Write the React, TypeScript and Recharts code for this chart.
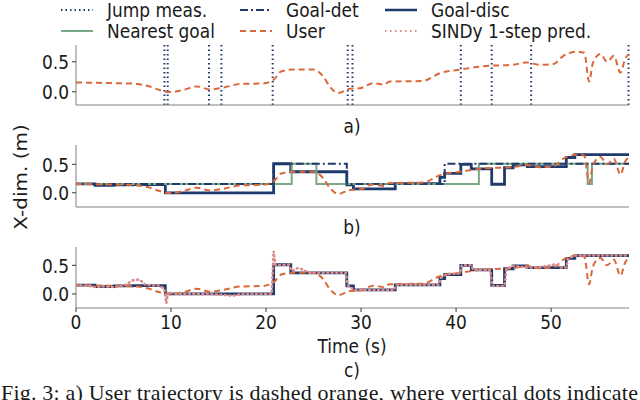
import React from 'react'
import { ComposedChart, Line, XAxis, YAxis, ReferenceLine } from 'recharts'

const NAVY = '#1f3a6c'
const GREEN = '#78a987'
const ORANGE = '#d9683a'
const PINK = '#d98a8a'
const FRAME = '#808080'
const FONT = '"DejaVu Sans", sans-serif'
const X_MAX = 58.2
const SQUEEZE = 0.85

// vertical dotted markers (panel a)
const jumpTimes = [9.3, 9.65, 14.0, 15.3, 20.7, 28.6, 29.1, 40.5, 43.75, 47.9, 58.15]

// user trajectory
const userT = [0, 2, 3.6, 5.3, 6.4, 7.5, 8.8, 9.9, 11.3, 12.7, 14.1, 15.5, 17.3, 19.7, 20.8, 21.6, 22.8, 25, 26, 26.7, 27.6, 28.8, 29.9, 31.3, 32.4, 33, 36.5, 38.3, 40.4, 43.2, 46, 47.4, 48.8, 50.2, 51.3, 52.7, 53.5, 54, 54.4, 55.2, 55.9, 56.6, 57.3, 57.8, 58.2]
const userX = [0.155, 0.15, 0.145, 0.14, 0.13, 0.1, 0.03, -0.005, 0.03, 0.09, 0.04, 0.07, 0.13, 0.14, 0.2, 0.34, 0.37, 0.37, 0.26, 0.09, -0.02, 0.05, 0.06, 0.145, 0.12, 0.17, 0.18, 0.31, 0.37, 0.43, 0.45, 0.49, 0.45, 0.46, 0.6, 0.67, 0.65, 0.17, 0.48, 0.63, 0.5, 0.6, 0.32, 0.55, 0.63]

// discrete goal (step)
const discT = [0, 2, 4, 6, 9.4, 20.8, 22.6, 28.5, 29.2, 33.6, 38.3, 38.8, 40.5, 41.6, 43.75, 45.1, 46, 47.5, 51.6, 52.5, 58.2]
const discX = [0.155, 0.13, 0.14, 0.145, 0.0, 0.51, 0.37, 0.14, 0.07, 0.16, 0.27, 0.34, 0.5, 0.42, 0.15, 0.44, 0.49, 0.46, 0.62, 0.67, 0.67]

// deterministic goal (step)
const detT = [0, 20.8, 28.5, 38.8, 58.2]
const detX = [0.155, 0.51, 0.155, 0.51, 0.51]

// nearest goal (step)
const nearT = [0, 22.7, 25.3, 42.4, 53.85, 54.3, 58.2]
const nearX = [0.155, 0.51, 0.155, 0.51, 0.155, 0.51, 0.51]

// SINDy 1-step prediction
const sindyT = [0, 1, 2, 3, 4, 5, 6, 6.7, 7.3, 8, 8.8, 9.3, 9.5, 9.7, 10.5, 12, 14, 15, 16.5, 17.5, 19, 20.6, 20.8, 21, 22.4, 22.7, 23.3, 23.8, 24.5, 28.4, 28.6, 29.3, 33.5, 33.7, 38.2, 38.4, 39, 40.4, 40.6, 41.6, 41.8, 43.6, 43.8, 45.1, 45.3, 46, 47.5, 49, 50.5, 51, 51.6, 51.8, 52.5, 58.2]
const sindyX = [0.15, 0.15, 0.12, 0.13, 0.12, 0.14, 0.24, 0.25, 0.16, 0.15, 0.15, 0.08, -0.16, 0.03, 0.0, 0.0, 0.0, -0.01, -0.03, 0.0, 0.0, 0.0, 0.75, 0.5, 0.51, 0.4, 0.45, 0.43, 0.37, 0.37, 0.15, 0.07, 0.07, 0.16, 0.16, 0.28, 0.35, 0.36, 0.5, 0.5, 0.42, 0.42, 0.14, 0.14, 0.44, 0.49, 0.46, 0.47, 0.52, 0.46, 0.46, 0.62, 0.67, 0.67]

const xTicks = [0, 10, 20, 30, 40, 50]
const yTicks = [0, 0.5]

const zip = (ts: number[], xs: number[]) => ts.map((t, i) => ({ t, v: xs[i] }))
const userData = zip(userT, userX)
const discData = zip(discT, discX)
const detData = zip(detT, detX)
const nearData = zip(nearT, nearX)
const sindyData = zip(sindyT, sindyX)

function XTick({ x, y, payload }: any) {
  return (
    <text transform={`translate(${x},${y}) scale(${SQUEEZE},1)`} textAnchor="middle" dy="0.78em" fontSize={20} fontFamily={FONT} fill="#1a1a1a">
      {payload.value}
    </text>
  )
}

function YTick({ x, y, payload }: any) {
  return (
    <text transform={`translate(${x},${y}) scale(${SQUEEZE},1)`} textAnchor="end" dy="0.36em" fontSize={20} fontFamily={FONT} fill="#1a1a1a">
      {payload.value.toFixed(1)}
    </text>
  )
}

function Panel({ top, height, domain, bottomLabels, children }: any) {
  const axisH = bottomLabels ? 28 : 6
  return (
    <div style={{ position: 'absolute', left: 0, top }}>
      <ComposedChart width={640} height={height + axisH} margin={{ top: 0, right: 11, bottom: 0, left: 16 }}>
        <XAxis
          type="number"
          dataKey="t"
          domain={[0, X_MAX]}
          allowDataOverflow
          ticks={xTicks}
          height={axisH}
          tick={bottomLabels ? <XTick /> : false}
          tickSize={4}
          tickMargin={1}
          tickLine={{ stroke: '#333' }}
          axisLine={{ stroke: FRAME }}
        />
        <XAxis xAxisId="top" orientation="top" type="number" domain={[0, X_MAX]} height={0} tick={false} tickLine={false} axisLine={{ stroke: FRAME }} />
        <YAxis
          type="number"
          domain={domain}
          allowDataOverflow
          ticks={yTicks}
          width={60}
          tick={<YTick />}
          tickSize={4}
          tickMargin={3}
          tickLine={{ stroke: '#333' }}
          axisLine={{ stroke: FRAME }}
        />
        <YAxis yAxisId="right" orientation="right" type="number" domain={domain} width={0} tick={false} tickLine={false} axisLine={{ stroke: FRAME }} />
        {children}
      </ComposedChart>
    </div>
  )
}

function LegendItem({ x, y, label, stroke, dash, width }: any) {
  return (
    <g>
      <line x1={x} y1={y} x2={x + 32} y2={y} stroke={stroke} strokeWidth={width} strokeDasharray={dash} />
      <text transform={`translate(${x + 46},${y + 7}) scale(${SQUEEZE},1)`} fontSize={20} fontFamily={FONT} fill="#1a1a1a">{label}</text>
    </g>
  )
}

const textBase: React.CSSProperties = {
  position: 'absolute', fontFamily: FONT, fontSize: 20, color: '#1a1a1a', whiteSpace: 'nowrap', lineHeight: '18px',
}

export default function App() {
  return (
    <div style={{ position: 'absolute', left: 0, top: 0, width: 640, height: 400, overflow: 'hidden', background: '#fff' }}>
      <svg width={640} height={44} style={{ position: 'absolute', left: 0, top: 0 }}>
        <LegendItem x={61} y={10} label="Jump meas." stroke={NAVY} dash="1.5 3" width={2} />
        <LegendItem x={240} y={10} label="Goal-det" stroke={NAVY} dash="8 3 2 3" width={2} />
        <LegendItem x={385} y={10} label="Goal-disc" stroke={NAVY} width={2.5} />
        <LegendItem x={61} y={31} label="Nearest goal" stroke={GREEN} width={2} />
        <LegendItem x={240} y={31} label="User" stroke={ORANGE} dash="6 4" width={2} />
        <LegendItem x={385} y={31} label="SINDy 1-step pred." stroke={PINK} dash="1.5 3.5" width={2} />
      </svg>

      <Panel top={45} height={60} domain={[-0.22, 0.78]}>
        {jumpTimes.map((t) => (
          <ReferenceLine key={t} x={t} stroke={NAVY} strokeWidth={2} strokeDasharray="1.5 3" />
        ))}
        <Line data={userData} dataKey="v" type="monotone" stroke={ORANGE} strokeWidth={2} strokeDasharray="6 4" dot={false} isAnimationActive={false} />
      </Panel>

      <Panel top={145} height={62} domain={[-0.25, 0.84]}>
        <Line data={discData} dataKey="v" type="stepAfter" stroke={NAVY} strokeWidth={2.8} dot={false} isAnimationActive={false} />
        <Line data={nearData} dataKey="v" type="stepAfter" stroke={GREEN} strokeWidth={2} dot={false} isAnimationActive={false} />
        <Line data={detData} dataKey="v" type="stepAfter" stroke={NAVY} strokeWidth={2} strokeDasharray="8 3 2 3" dot={false} isAnimationActive={false} />
        <Line data={userData} dataKey="v" type="monotone" stroke={ORANGE} strokeWidth={2} strokeDasharray="6 4" dot={false} isAnimationActive={false} />
      </Panel>

      <Panel top={247} height={61} domain={[-0.245, 0.82]} bottomLabels>
        <Line data={discData} dataKey="v" type="stepAfter" stroke={NAVY} strokeWidth={2.8} dot={false} isAnimationActive={false} />
        <Line data={userData} dataKey="v" type="monotone" stroke={ORANGE} strokeWidth={2} strokeDasharray="6 4" dot={false} isAnimationActive={false} />
        <Line data={sindyData} dataKey="v" type="linear" stroke={PINK} strokeWidth={2.5} strokeDasharray="1 3.5" strokeLinecap="round" dot={false} isAnimationActive={false} />
      </Panel>

      <div style={{ ...textBase, left: 352, top: 126, transform: `translate(-50%, -50%) scaleX(${SQUEEZE})` }}>a)</div>
      <div style={{ ...textBase, left: 352, top: 227, transform: `translate(-50%, -50%) scaleX(${SQUEEZE})` }}>b)</div>
      <div style={{ ...textBase, left: 352, top: 346, transform: `translate(-50%, -50%) scaleX(${SQUEEZE})` }}>Time (s)</div>
      <div style={{ ...textBase, left: 352, top: 370, transform: `translate(-50%, -50%) scaleX(${SQUEEZE})` }}>c)</div>
      <div style={{ ...textBase, left: 21, top: 177, transform: `translate(-50%, -50%) rotate(-90deg) scaleY(${SQUEEZE})` }}>X-dim. (m)</div>
      <div style={{ ...textBase, left: 1, top: 382, fontFamily: '"Liberation Serif", serif', fontSize: 22, lineHeight: '22px', letterSpacing: 0.2 }}>
        Fig. 3: a) User trajectory is dashed orange, where vertical dots indicate
      </div>
    </div>
  )
}
